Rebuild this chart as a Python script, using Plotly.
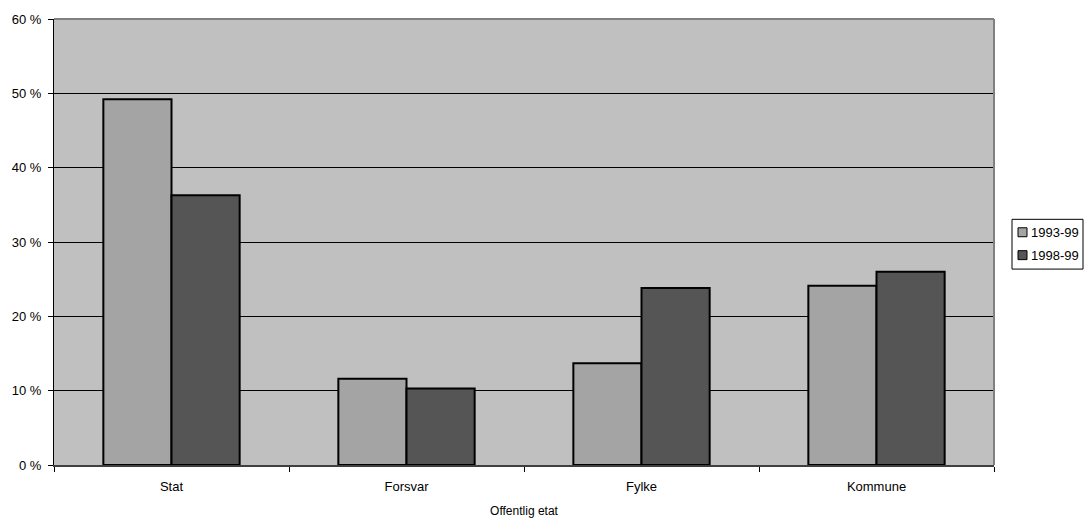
import plotly.graph_objects as go

categories = ["Stat", "Forsvar", "Fylke", "Kommune"]
series_names = ["1993-99", "1998-99"]
values_1993 = [49.2, 11.6, 13.7, 24.1]
values_1998 = [36.3, 10.3, 23.8, 26.0]
y_ticks = [0, 10, 20, 30, 40, 50, 60]
x_title = "Offentlig etat"

colors = ["#a4a4a4", "#555555"]
FONT = "Liberation Sans, Arial, sans-serif"

# the photographed page appears compressed vertically by ~520/528
SY = 528 / 520
W, H = 1085, 528
PLOT_L, PLOT_R = 54, 994
PLOT_T, PLOT_B = round(18 * SY), round(466 * SY)
ML, MR, MT, MB = PLOT_L, W - PLOT_R, PLOT_T, H - PLOT_B
PW = PLOT_R - PLOT_L
PH = PLOT_B - PLOT_T

fig = go.Figure()
for name, vals, col in zip(series_names, [values_1993, values_1998], colors):
    fig.add_trace(go.Bar(
        x=categories, y=vals, name=name,
        marker=dict(color=col, line=dict(color="black", width=2)),
        showlegend=False,
    ))

def px_x(p):
    return (p - PLOT_L) / PW

def px_y(p):
    return (PLOT_B - p * SY) / PH

shapes = []
shapes.append(dict(type="line", xref="paper", yref="paper", x0=0, x1=1, y0=1, y1=1,
                   line=dict(color="#808080", width=2)))
shapes.append(dict(type="line", xref="paper", yref="paper", x0=1, x1=1, y0=0, y1=1,
                   line=dict(color="#808080", width=2)))
shapes.append(dict(type="rect", xref="paper", yref="paper",
                   x0=px_x(1012), x1=px_x(1083), y0=px_y(269), y1=px_y(219),
                   line=dict(color="black", width=1), fillcolor="white", layer="above"))
annotations = []
item_y = [232, 255]
for i, (name, col) in enumerate(zip(series_names, colors)):
    cy = item_y[i]
    shapes.append(dict(type="rect", xref="paper", yref="paper",
                       x0=px_x(1018), x1=px_x(1027), y0=px_y(cy + 4.5), y1=px_y(cy - 4.5),
                       line=dict(color="black", width=1), fillcolor=col, layer="above"))
    annotations.append(dict(xref="paper", yref="paper", x=px_x(1029), y=px_y(cy),
                            text=name, showarrow=False, xanchor="left", yanchor="middle",
                            font=dict(family=FONT, size=13, color="black")))

fig.update_layout(
    width=W, height=H,
    margin=dict(l=ML, r=MR, t=MT, b=MB, pad=0),
    paper_bgcolor="white", plot_bgcolor="#c0c0c0",
    barmode="group", bargap=0.42, bargroupgap=0,
    font=dict(family=FONT, size=13, color="black"),
    shapes=shapes, annotations=annotations,
    xaxis=dict(
        type="category", tickson="boundaries", ticks="outside", ticklen=5,
        tickcolor="black", tickwidth=1, showline=True, linecolor="#404040", linewidth=2,
        showgrid=False, ticklabelstandoff=8,
        tickfont=dict(family=FONT, size=13),
        title=dict(text=x_title, font=dict(family=FONT, size=12), standoff=14),
    ),
    yaxis=dict(
        range=[0, 60], tickvals=y_ticks, ticktext=[f"{v} %" for v in y_ticks],
        ticks="outside", ticklen=5, tickcolor="black", tickwidth=1,
        showline=True, linecolor="black", linewidth=1,
        showgrid=True, gridcolor="black", gridwidth=1, zeroline=False,
        tickfont=dict(family=FONT, size=13), ticklabelstandoff=4,
    ),
)

post = (
    "var h=document.documentElement,b=document.body;"
    "h.style.margin='0';h.style.padding='0';h.style.overflow='hidden';"
    "b.style.margin='0';b.style.padding='0';b.style.overflow='hidden';"
    "b.style.lineHeight='0';"
)
fig.write_html("out.html", post_script=post, config={"displayModeBar": False})
